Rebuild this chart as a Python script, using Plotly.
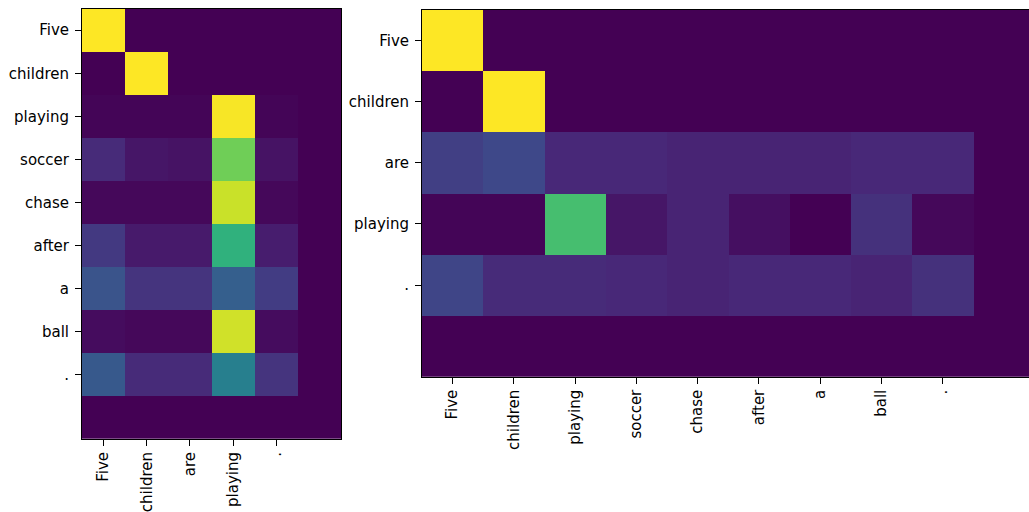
import plotly.graph_objects as go

# Left: rows = source words, columns = target words
left_rows = ["Five", "children", "playing", "soccer", "chase", "after", "a", "ball", ".", ""]
left_cols = ["Five", "children", "are", "playing", ".", ""]
left_z = [
    [1.00, 0.00, 0.00, 0.00, 0.00, 0.00],
    [0.00, 1.00, 0.00, 0.00, 0.00, 0.00],
    [0.01, 0.01, 0.01, 0.99, 0.01, 0.00],
    [0.12, 0.06, 0.05, 0.78, 0.05, 0.00],
    [0.02, 0.02, 0.02, 0.92, 0.02, 0.00],
    [0.17, 0.07, 0.07, 0.64, 0.08, 0.00],
    [0.26, 0.15, 0.15, 0.30, 0.18, 0.00],
    [0.03, 0.02, 0.02, 0.93, 0.03, 0.00],
    [0.28, 0.12, 0.12, 0.43, 0.15, 0.00],
    [0.00, 0.00, 0.00, 0.00, 0.00, 0.00],
]

# Right: rows = target words, columns = source words
right_rows = ["Five", "children", "are", "playing", ".", ""]
right_cols = ["Five", "children", "playing", "soccer", "chase", "after", "a", "ball", ".", ""]
right_z = [
    [1.00, 0.00, 0.00, 0.00, 0.00, 0.00, 0.00, 0.00, 0.00, 0.00],
    [0.00, 1.00, 0.00, 0.00, 0.00, 0.00, 0.00, 0.00, 0.00, 0.00],
    [0.19, 0.22, 0.11, 0.11, 0.10, 0.10, 0.10, 0.11, 0.11, 0.00],
    [0.01, 0.01, 0.70, 0.06, 0.10, 0.04, 0.00, 0.14, 0.02, 0.00],
    [0.21, 0.12, 0.12, 0.11, 0.10, 0.11, 0.11, 0.10, 0.14, 0.00],
    [0.00, 0.00, 0.00, 0.00, 0.00, 0.00, 0.00, 0.00, 0.00, 0.00],
]

W, H = 1029, 512

def dx(px):
    return px / W

def dy(px):
    return 1 - px / H

fig = go.Figure()

fig.add_trace(go.Heatmap(
    z=left_z, x=list(range(len(left_cols))), y=list(range(len(left_rows))),
    colorscale="Viridis", zmin=0, zmax=1, showscale=False, hoverinfo="skip",
    xaxis="x", yaxis="y"))
fig.add_trace(go.Heatmap(
    z=right_z, x=list(range(len(right_cols))), y=list(range(len(right_rows))),
    colorscale="Viridis", zmin=0, zmax=1, showscale=False, hoverinfo="skip",
    xaxis="x2", yaxis="y2"))

font = dict(family="DejaVu Sans", size=15, color="black")
common = dict(showline=True, mirror=True, linecolor="black", linewidth=1,
              ticks="outside", ticklen=6, tickcolor="black", tickwidth=1,
              showgrid=False, zeroline=False, automargin=False, tickfont=font)

def labeled(labels):
    idx = [i for i, t in enumerate(labels) if t != ""]
    return idx, [labels[i] for i in idx]

lx_v, lx_t = labeled(left_cols)
ly_v, ly_t = labeled(left_rows)
rx_v, rx_t = labeled(right_cols)
ry_v, ry_t = labeled(right_rows)

# the right panel in the reference runs slightly past the window edge
right_x0 = 422
right_cell = 61.25
right_visible = (W - right_x0) / right_cell  # number of cells visible

fig.update_layout(
    width=W, height=H,
    margin=dict(l=0, r=0, t=0, b=0),
    paper_bgcolor="white", plot_bgcolor="white",
    xaxis=dict(domain=[dx(82), dx(341)], range=[-0.5, len(left_cols) - 0.5],
               tickvals=lx_v, ticktext=lx_t, tickangle=-90, anchor="y", **common),
    yaxis=dict(domain=[dy(439), dy(8.7)], range=[len(left_rows) - 0.5, -0.5],
               tickvals=ly_v, ticktext=ly_t, anchor="x", ticklabelstandoff=3, **common),
    xaxis2=dict(domain=[dx(right_x0), 1.0], range=[-0.5, -0.5 + right_visible],
                tickvals=rx_v, ticktext=rx_t, tickangle=-90, anchor="y2", **common),
    yaxis2=dict(domain=[dy(376.7), dy(10)], range=[len(right_rows) - 0.5, -0.5],
                tickvals=ry_v, ticktext=ry_t, anchor="x2", ticklabelstandoff=3, **common),
)

fig.write_html(
    "out.html",
    config={"displayModeBar": False},
    post_script="document.body.style.margin='0';document.body.style.overflow='hidden';",
)
